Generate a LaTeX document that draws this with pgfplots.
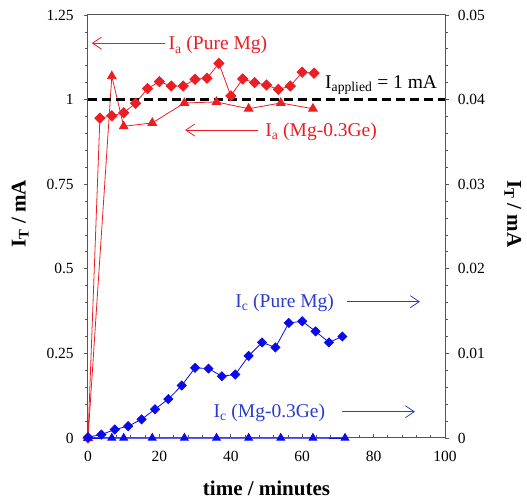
\documentclass[border=0pt]{standalone}
\usepackage{fontspec}
\setmainfont{Liberation Serif}
\usepackage{pgfplots}
\usepackage{pgfplotstable}
\pgfplotsset{compat=1.18}
\usetikzlibrary{arrows.meta}
\definecolor{myred}{RGB}{235,30,35}
\definecolor{myblue}{RGB}{10,10,235}
\definecolor{bluetxt}{RGB}{45,60,205}
\definecolor{axgray}{RGB}{85,85,85}

\pgfplotstableread{
t y
0 0
3.33 0.945
6.67 0.952
10 0.961
13.33 0.989
16.67 1.033
20 1.053
23.33 1.040
26.67 1.040
30 1.060
33.33 1.063
36.67 1.107
40 1.011
43.33 1.061
46.67 1.050
50 1.043
53.33 1.030
56.67 1.040
60 1.081
63.33 1.078
}\redpure

\pgfplotstableread{
t y
0 0
6.67 1.069
10 0.921
18 0.931
27 0.990
36 0.993
45 0.973
54 0.990
63 0.973
}\redge

\pgfplotstableread{
t y
0 0.0001
3.75 0.0004
7.5 0.0010
11.25 0.0014
15 0.0022
18.75 0.0034
22.5 0.0046
26.25 0.0062
30 0.0083
33.75 0.0082
37.5 0.0073
41.25 0.0075
45 0.0097
48.75 0.0113
52.5 0.0107
56.25 0.0136
60 0.0138
63.75 0.0126
67.5 0.0113
71.25 0.0120
}\bluepure

\pgfplotstableread{
t y
0 0
6.67 0
10 0
18 0
27 0
36 0
45 0
54 0
63 0
72 0
}\bluege

\begin{document}
\begin{tikzpicture}
\useasboundingbox (-88pt,-64pt) rectangle (439pt,438pt);
\pgfplotsset{common/.style={
  scale only axis, width=357pt, height=423pt,
  xmin=0, xmax=100,
  /pgf/number format/assume math mode=true,
  tick label style={font=\fontsize{15.5}{18}\selectfont},
  axis line style={axgray, line width=1pt},
  every tick/.style={axgray, line width=0.8pt},
}}
\begin{axis}[common,
  ymin=0, ymax=1.25,
  xtick={0,20,40,60,80,100},
  ytick={0,0.25,0.5,0.75,1,1.25},
  minor x tick num=4, minor y tick num=4,
  xtick pos=bottom, ytick pos=left,
  xtick align=inside, ytick align=outside,
  x tick label style={yshift=-10pt},
  y tick label style={xshift=-6.5pt},
  xlabel={time / minutes},
  ylabel={I\textsubscript{T} / mA},
  every axis x label/.style={at={(axis description cs:0.5,-0.118)}, anchor=center, font=\bfseries\fontsize{21}{24}\selectfont},
  every axis y label/.style={at={(axis description cs:-0.19,0.53)}, rotate=90, anchor=center, font=\bfseries\fontsize{21}{24}\selectfont},
  clip=false,
]
\addplot[myred, line width=0.8pt, mark=square*, mark size=3.6pt, mark options={solid, fill=myred, draw=myred, rotate=45}] table[x=t,y=y] {\redpure};
\addplot[myred, line width=0.8pt, mark=triangle*, mark size=5pt, mark options={solid, fill=myred, draw=myred}] table[x=t,y=y] {\redge};
\draw[black, line width=2.4pt, dash pattern=on 9pt off 5pt] (axis cs:0,1) -- (axis cs:100,1);
\node[anchor=base west, inner sep=0, text=myred, font=\fontsize{19.5}{22}\selectfont] at (axis cs:22.5,1.1466) {I\textsubscript{a} (Pure Mg)};
\draw[myred, line width=0.8pt, -{Straight Barb[length=9pt,width=12pt]}] (axis cs:21.6,1.1667) -- (axis cs:1.05,1.1667);
\node[anchor=base west, inner sep=0, text=myred, font=\fontsize{19.5}{22}\selectfont] at (axis cs:49.6,0.890) {I\textsubscript{a} (Mg-0.3Ge)};
\draw[myred, line width=0.8pt, -{Straight Barb[length=9pt,width=12pt]}] (axis cs:47.7,0.910) -- (axis cs:27.2,0.910);
\node[anchor=base west, inner sep=0, text=black, font=\fontsize{19.5}{22}\selectfont] at (axis cs:66.4,1.0334) {I\textsubscript{applied} = 1 mA};
\node[anchor=base west, inner sep=0, text=bluetxt, font=\fontsize{19.5}{22}\selectfont] at (axis cs:41.2,0.385) {I\textsubscript{c} (Pure Mg)};
\draw[bluetxt, line width=0.8pt, -{Straight Barb[length=9pt,width=12pt]}] (axis cs:72.5,0.4028) -- (axis cs:93.0,0.4028);
\node[anchor=base west, inner sep=0, text=bluetxt, font=\fontsize{19.5}{22}\selectfont] at (axis cs:35.1,0.060) {I\textsubscript{c} (Mg-0.3Ge)};
\draw[bluetxt, line width=0.8pt, -{Straight Barb[length=9pt,width=12pt]}] (axis cs:71.1,0.0777) -- (axis cs:91.6,0.0777);
\end{axis}
\begin{axis}[common,
  ymin=0, ymax=0.05,
  axis y line*=right, axis x line=none,
  ytick={0,0.01,0.02,0.03,0.04,0.05},
  minor y tick num=4,
  tick align=outside,
  scaled y ticks=false,
  yticklabel style={/pgf/number format/fixed, /pgf/number format/precision=2, xshift=5pt},
  ylabel={I\textsubscript{T} / mA},
  every axis y label/.style={at={(axis description cs:1.19,0.53)}, rotate=-90, anchor=center, font=\bfseries\fontsize{21}{24}\selectfont},
  clip=false,
]
\addplot[myblue, line width=0.8pt, mark=square*, mark size=3.2pt, mark options={solid, fill=myblue, draw=myblue, rotate=45}] table[x=t,y=y] {\bluepure};
\addplot[myblue, line width=0.8pt, mark=triangle*, mark size=4.5pt, mark options={solid, fill=myblue, draw=myblue}] table[x=t,y=y] {\bluege};
\end{axis}
\end{tikzpicture}
\end{document}
